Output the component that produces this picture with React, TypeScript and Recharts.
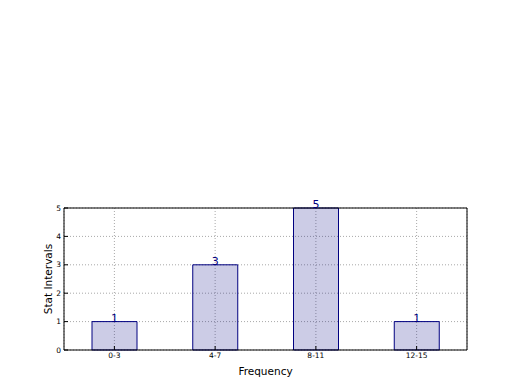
import React from 'react';
import {
  BarChart, Bar, XAxis, YAxis, CartesianGrid, LabelList
} from 'recharts';

const categories = ['0-3', '4-7', '8-11', '12-15'];
const counts = [1, 3, 5, 1];
const yTicks = [0, 1, 2, 3, 4, 5];

const data = categories.map((name, i) => ({ name, value: counts[i] }));

const FONT = '"DejaVu Sans", sans-serif';
const NAVY = '#000080';

export default function App() {
  return (
    <div style={{ position: 'absolute', left: 0, top: 0, width: 520, height: 390, background: '#fff' }}>
      <BarChart
        width={520}
        height={390}
        data={data}
        margin={{ top: 207, right: 52, bottom: 15, left: 34 }}
        style={{ fontFamily: FONT }}
      >
        <CartesianGrid stroke="#a8a8a8" strokeDasharray="1 2" />
        <XAxis
          dataKey="name"
          height={25}
          axisLine={{ stroke: '#000' }}
          tickLine={{ stroke: '#000' }}
          tickSize={-4}
          tickMargin={7}
          tick={{ fill: '#000', fontSize: 7.5, fontFamily: FONT }}
          interval={0}
          label={{ value: 'Frequency', position: 'insideBottom', offset: 0, fill: '#000', fontSize: 10.5, fontFamily: FONT }}
        />
        <XAxis
          xAxisId="top"
          dataKey="name"
          orientation="top"
          height={1}
          axisLine={{ stroke: '#000' }}
          tickLine={{ stroke: '#000' }}
          tickSize={-4}
          tick={false}
        />
        <YAxis
          width={30}
          domain={[0, 5]}
          ticks={yTicks}
          axisLine={{ stroke: '#000' }}
          tickLine={{ stroke: '#000' }}
          tickSize={-4}
          tickMargin={7}
          tick={{ fill: '#000', fontSize: 7.5, fontFamily: FONT }}
          label={{
            value: 'Stat Intervals', angle: -90, position: 'insideLeft', offset: 14,
            fill: '#000', fontSize: 10.5, fontFamily: FONT, style: { textAnchor: 'middle' }
          }}
        />
        <YAxis
          yAxisId="right"
          orientation="right"
          width={1}
          domain={[0, 5]}
          ticks={yTicks}
          axisLine={{ stroke: '#000' }}
          tickLine={{ stroke: '#000' }}
          tickSize={-4}
          tick={false}
        />
        <Bar
          dataKey="value"
          barSize={45}
          fill={NAVY}
          fillOpacity={0.2}
          stroke={NAVY}
          strokeWidth={1}
          isAnimationActive={false}
        >
          <LabelList dataKey="value" position="top" offset={0} fill={NAVY} fontSize={11} fontFamily={FONT} />
        </Bar>
      </BarChart>
    </div>
  );
}
